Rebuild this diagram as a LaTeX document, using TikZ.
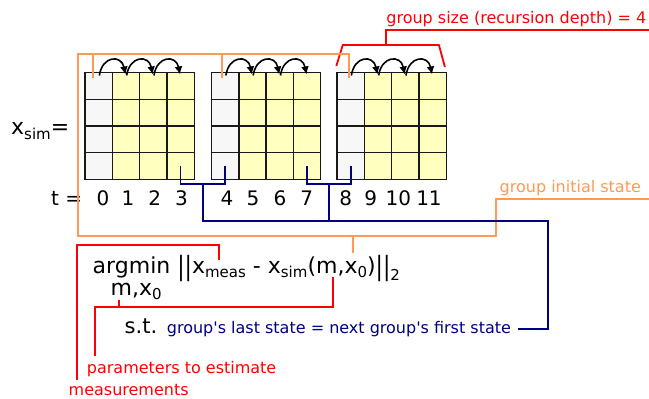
\documentclass[tikz,border=0pt]{standalone}
\usepackage{fontspec}
\usepackage{graphicx}
\setmainfont{DejaVu Sans}
\setmonofont{DejaVu Sans}
\usetikzlibrary{arrows.meta,positioning,calc}
\definecolor{naranja}{HTML}{FF9955}
\definecolor{rojo}{HTML}{FF0000}
\definecolor{marino}{HTML}{000080}
\definecolor{gris}{HTML}{F7F7F7}
\definecolor{crema}{HTML}{FFFFC0}
\newcommand\fs[1]{\fontsize{#1}{#1}\selectfont}
\newcommand\low[2][0.2em]{\raisebox{-#1}{\fs{15}#2}}
\newcommand\nrm{\raisebox{-0.08em}{\scalebox{1}[1.2]{\textbar\textbar}}}

\begin{document}
\begin{tikzpicture}[x=1pt,y=-1pt,
  cell/.style={draw=black!90,line width=1.4pt,minimum width=27.3pt,minimum height=26.65pt,inner sep=0},
  rec/.style={-{Latex[length=8pt,width=8pt]},line width=1.6pt},
  initc/.style={naranja,line width=1.8pt},
  sizec/.style={rojo,line width=1.8pt},
  lastc/.style={marino,line width=1.8pt},
  lbl/.style={inner sep=0,anchor=base west,font=\fs{16}},
  big/.style={inner sep=0,anchor=base west,font=\fs{22}}]

\useasboundingbox (0,0) rectangle (649,399);

% state matrices, one per group
\foreach \g/\gx in {0/85,1/211.5,2/337}{
  \foreach \r in {0,...,3}{
    \foreach \k in {0,...,3}{
      \ifnum\k=0 \def\fc{gris}\else\def\fc{crema}\fi
      \node[cell,fill=\fc] (c-\g-\r-\k) at ({\gx+27.3*\k+13.65},{72.7+26.65*\r+13.3}) {};
    }
  }
  \foreach \k [count=\kk] in {0,1,2}
    \draw[rec] ([xshift=0.7pt,yshift=-3.5pt]c-\g-0-\k.north) .. controls +(3,-20) and +(-4,-20) .. ([xshift=-0.5pt,yshift=-2.5pt]c-\g-0-\kk.north);
}

\node[big] (xsim) at (11,134.3) {x\low[0.22em]{sim}=};

% time axis
\node[inner sep=0,anchor=base west,font=\fs{20}] (teq) at (51,205.7) {t =};
\foreach \n/\tx in {0/103,1/128,2/154.7,3/181.5,4/227,5/253,6/280,7/306.7,8/345.8,9/370.8,10/398.3,11/429}
  \node[inner sep=0,anchor=base,font=\fs{20}] (t\n) at (\tx,205.7) {\n};

% objective
\node[big] (obj) at (92.5,273.5) {argmin \nrm x\low{meas} - x\low{sim}(m,x\low{0})\nrm\low[0.3em]{2}};
\node[big] (argv) at (110.5,295) {m,x\low{0}};
\node[inner sep=0,anchor=base west,font=\fs{21}] (st) at (124.5,333.3) {s.t.};
\node[lbl,marino,inner xsep=6.5pt,font=\fs{16}\ttfamily] (cons) at (160.2,333.3) {group's last state = next group's first state};

% labels
\node[lbl,rojo] (size) at (386.2,23.5) {group size (recursion depth) = 4};
\node[lbl,naranja,inner xsep=3.8pt] (init) at (495.7,192) {group initial state};
\node[lbl,rojo] (meas) at (68.5,395.5) {measurements};
\node[lbl,rojo] (par) at (86.7,373.3) {parameters to estimate};

\coordinate (sizeend) at (649,30);
\coordinate (initend) at (649,199);
\coordinate (otl) at (77.7,54);
\coordinate (obl) at (77.7,235.7);
\coordinate (bus) at (548.3,221);
\coordinate (pm) at (219.3,260);
\coordinate (pp) at (332.7,276.7);
\coordinate (brR) at ([xshift=-8pt,yshift=27pt]c-2-0-3.north east);

% group size
\draw[sizec] (sizeend) -- (size.south west |- sizeend) |- (brR);
\draw[sizec] ([yshift=6pt]c-2-0-0.north west) -- ++(6.5,-21) -- (brR) -- ([xshift=-2pt,yshift=5pt]c-2-0-3.north east);

% initial states
\draw[initc] (initend) -- (init.south west |- initend) |- (obl) -- (otl) -| ([xshift=-1.3pt,yshift=-6.3pt]c-2-0-0.north);
\draw[initc] ([xshift=-5.3pt,yshift=-6.3pt]c-0-0-0.north) -- ++(0,-25);
\draw[initc] ([xshift=-2.9pt,yshift=-6.3pt]c-1-0-0.north) -- ++(0,-25);
\draw[initc] (obl -| 352.7,0) -- (352.7,253);

% continuity constraint
\draw[lastc] (c-0-3-3.center) -- ++(0,18.3) -| (c-1-3-0.center);
\draw[lastc] (c-1-3-3.center) -- ++(0,18.3) -| (c-2-3-0.center);
\coordinate (m1) at ($(c-0-3-3.center)!.5!(c-1-3-0.center)+(0,18.3)$);
\coordinate (m2) at ($(c-1-3-3.center)!.5!(c-2-3-0.center)+(0,18.3)$);
\draw[lastc] (m1) |- (bus) |- (cons.east);
\draw[lastc] (m2) -- (m2 |- bus);

% measurements and parameters
\draw[sizec] ([xshift=8.8pt,yshift=4pt]meas.north west) |- ([yshift=15pt]pm) -- (pm);
\draw[sizec] ([xshift=8.3pt,yshift=5pt]par.north west) |- ([yshift=-30.6pt]pp) -- (pp);
\draw[sizec] (119.3,307.3) -- (119.3,300);
\end{tikzpicture}
\end{document}
